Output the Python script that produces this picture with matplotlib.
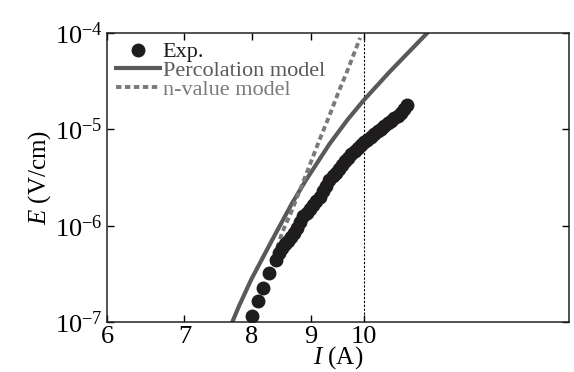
import matplotlib
matplotlib.use("Agg")
import matplotlib.pyplot as plt
from matplotlib.ticker import FixedLocator, FixedFormatter, NullLocator

plt.rcParams['font.family'] = ['Liberation Serif', 'DejaVu Serif']
plt.rcParams['mathtext.fontset'] = 'custom'
plt.rcParams['mathtext.rm'] = 'Liberation Serif'
plt.rcParams['mathtext.it'] = 'Liberation Serif:italic'

# experimental points (current in A, field in V/cm)
exp_I = [8.00, 8.10, 8.19, 8.29, 8.40, 8.45, 8.50, 8.55, 8.60, 8.66, 8.71, 8.76,
         8.81, 8.87, 8.93, 8.98, 9.04, 9.10, 9.16, 9.22, 9.28, 9.34, 9.40, 9.46,
         9.52, 9.58, 9.64, 9.70, 9.76, 9.82, 9.88, 9.94, 10.00, 10.07, 10.14,
         10.21, 10.28, 10.35, 10.42, 10.49, 10.56, 10.63, 10.70, 10.77, 10.84, 10.90]
exp_E = [1.15e-7, 1.65e-7, 2.25e-7, 3.2e-7, 4.4e-7, 5.2e-7, 5.9e-7, 6.4e-7,
         6.9e-7, 7.6e-7, 8.4e-7, 9.5e-7, 1.10e-6, 1.25e-6, 1.36e-6, 1.50e-6,
         1.63e-6, 1.80e-6, 1.98e-6, 2.3e-6, 2.6e-6, 2.95e-6, 3.25e-6, 3.55e-6,
         3.9e-6, 4.25e-6, 4.65e-6, 5.05e-6, 5.5e-6, 5.9e-6, 6.35e-6, 6.85e-6,
         7.3e-6, 7.8e-6, 8.4e-6, 9.0e-6, 9.6e-6, 10.2e-6, 10.9e-6, 11.6e-6,
         12.3e-6, 13.1e-6, 13.9e-6, 14.8e-6, 16.2e-6, 17.9e-6]

# percolation model
perc_I = [7.70, 7.80, 8.00, 8.33, 8.67, 8.92, 9.34, 9.68, 10.00, 10.52, 11.35]
perc_E = [1.0e-7, 1.45e-7, 2.8e-7, 7.0e-7, 1.7e-6, 3.0e-6, 7.0e-6, 1.25e-5,
          2.0e-5, 3.9e-5, 1.0e-4]

# n-value model
nval_I = [8.34, 8.41, 8.50, 8.65, 8.88, 9.16, 9.34, 9.52, 9.68, 9.93]
nval_E = [3.9e-7, 5.6e-7, 8.4e-7, 1.35e-6, 2.98e-6, 7.8e-6, 1.38e-5, 2.5e-5,
          4.04e-5, 8.9e-5]

xticks = [6, 7, 8, 9, 10]
yticks = [1e-7, 1e-6, 1e-5, 1e-4]
ytick_labels = [r'$\mathregular{10^{-7}}$', r'$\mathregular{10^{-6}}$',
                r'$\mathregular{10^{-5}}$', r'$\mathregular{10^{-4}}$']

fig = plt.figure(figsize=(5.74, 3.72), dpi=100)
ax = fig.add_axes([0.1864, 0.1344, 0.8049, 0.7769])

ax.plot(exp_I, exp_E, 'o', color='#1e1c1d', ms=9, mec='#1e1c1d', label='Exp.', zorder=3)
ax.plot(perc_I, perc_E, '-', color='#595959', lw=3.0, label='Percolation model', zorder=2)
ax.plot(nval_I, nval_E, color='#7a7a7a', lw=2.8, ls=(0, (1.4, 0.9)),
        label='n-value model', zorder=2)
ax.axvline(10, color='black', lw=0.8, ls=(0, (2, 1.5)), zorder=1)

ax.set_xscale('log')
ax.set_yscale('log')
ax.set_xlim(6, 15.05)
ax.set_ylim(1e-7, 1e-4)

ax.xaxis.set_major_locator(FixedLocator(xticks))
ax.xaxis.set_major_formatter(FixedFormatter([str(t) for t in xticks]))
ax.xaxis.set_minor_locator(NullLocator())
ax.yaxis.set_major_locator(FixedLocator(yticks))
ax.yaxis.set_major_formatter(FixedFormatter(ytick_labels))
ax.yaxis.set_minor_locator(NullLocator())

ax.tick_params(direction='in', length=5, width=1, top=True, right=True,
               labelsize=19, pad=3)
for s in ax.spines.values():
    s.set_linewidth(1.1)
    s.set_color('#222222')

ax.set_xlabel(r'$\mathit{I}$ (A)', fontsize=18, labelpad=-3)
ax.set_ylabel(r'$\mathit{E}$ (V/cm)', fontsize=18, labelpad=1)

leg = ax.legend(loc='upper left', frameon=False, fontsize=16, handlelength=2.0,
                handletextpad=0.1, labelspacing=-0.08, borderaxespad=0.1,
                borderpad=0.3)
for txt, c in zip(leg.get_texts(), ['#1e1c1d', '#595959', '#7a7a7a']):
    txt.set_color(c)

fig.savefig('out.png', dpi=100)
